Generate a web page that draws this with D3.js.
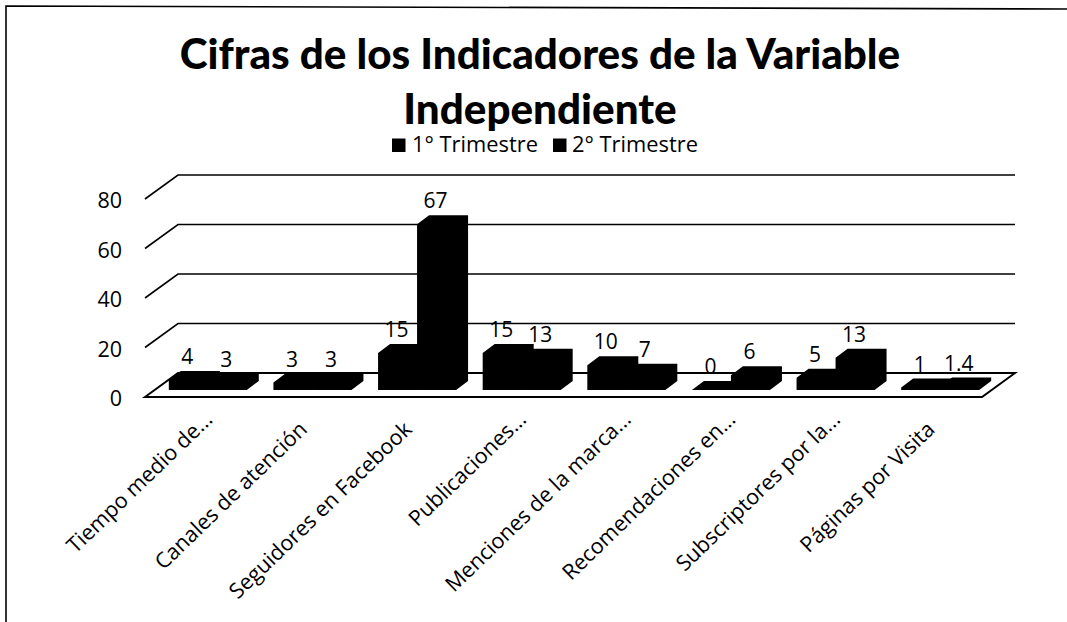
<!DOCTYPE html>
<html><head><meta charset="utf-8">
<script src="https://cdn.jsdelivr.net/npm/d3@7"></script>
<style>html,body{margin:0;padding:0;background:#fff}svg{display:block}text{font-family:"Open Sans",Lato,sans-serif;fill:#000}</style>
</head><body><svg id="c" width="1067" height="622"></svg>
<script>
const categories=["Tiempo medio de...","Canales de atención","Seguidores en Facebook","Publicaciones...","Menciones de la marca...","Recomendaciones en...","Subscriptores por la...","Páginas por Visita"];
const seriesNames=["1° Trimestre","2° Trimestre"];
const trimestre1=[4,3,15,15,10,0,5,1];
const trimestre2=[3,3,67,13,7,6,13,1.4];
const yTicks=[0,20,40,60,80];
const titleLines=["Cifras de los Indicadores de la Variable","Independiente"];

const svg=d3.select("#c");
const ink="#000";
const x=d3.scaleBand().domain(categories).range([145,982]);
const y=d3.scaleLinear().domain([0,80]).range([397,199]);
const depth={x:33,y:24}, barDepth={x:12,y:9}, inset={x:10.5,y:7};
const barW=39;

// border
svg.append("path").attr("d","M6,622L6,6L1067,9").attr("fill","none").attr("stroke",ink).attr("stroke-width",1.6);

// title
svg.selectAll(".t").data(titleLines).join("text").attr("class","t")
 .attr("x",540).attr("y",(d,i)=>69+i*55).attr("text-anchor","middle")
 .style("font-family","Lato,sans-serif").attr("font-size",42.2).attr("font-weight",900).text(d=>d);

// legend
const legend=[{x:392,tx:412,name:seriesNames[0]},{x:553,tx:572,name:seriesNames[1]}];
legend.forEach(l=>{
 svg.append("rect").attr("x",l.x).attr("y",138.5).attr("width",13.5).attr("height",13.5).attr("fill",ink);
 svg.append("text").attr("x",l.tx).attr("y",152).attr("font-size",21).attr("textLength",126).attr("lengthAdjust","spacingAndGlyphs").text(l.name);
});

// walls
const grid=svg.append("g").attr("fill","none").attr("stroke",ink);
yTicks.forEach(t=>{
 const y0=y(t);
 const p=t===0?`M${x.range()[0]},${y0}L${x.range()[0]+depth.x},${y0-depth.y}L${x.range()[1]+depth.x},${y0-depth.y}L${x.range()[1]},${y0}Z`
   :`M${x.range()[0]},${y0}L${x.range()[0]+depth.x},${y0-depth.y}L${x.range()[1]+depth.x},${y0-depth.y}`;
 grid.append("path").attr("d",p).attr("stroke-width",t===0?2:1.6);
});

// axis labels
const axis=svg.append("g").attr("transform","translate(122,2)").call(d3.axisLeft(y).tickValues(yTicks).tickSize(0).tickPadding(0));
axis.select(".domain").remove();
axis.selectAll("text").attr("font-size",21.5).style("font-family","'Open Sans',sans-serif").attr("fill",ink);

// bars
const sub=d3.scaleBand().domain([0,1]).range([0,barW*2]);
const base=y(0)-inset.y;
[trimestre1,trimestre2].forEach((vals,s)=>{
 const g=svg.append("g").attr("fill",ink);
 vals.forEach((v,i)=>{
  const x0=x(categories[i])+x.step()/2+inset.x-barW+sub(s);
  const x1=x0+barW;
  const top=base-(y(0)-y(v));
  g.append("path").attr("d",
   `M${x0},${base}L${x0},${top}L${x0+barDepth.x},${top-barDepth.y}L${x1+barDepth.x},${top-barDepth.y}L${x1+barDepth.x},${base-barDepth.y}L${x1},${base}Z`);
  svg.append("text").attr("class","dl").attr("x",(x0+x1)/2-1).attr("y",top-barDepth.y-7)
   .attr("text-anchor","middle").attr("font-size",21).text(v);
 });
});
svg.selectAll(".dl").raise();

// category labels
svg.append("g").selectAll("text").data(categories).join("text")
 .attr("text-anchor","end").attr("font-size",21.5)
 .attr("transform",d=>`translate(${x(d)+x.step()/2+ (d.endsWith("...")?6:-4)},${d.endsWith("...")?410:420}) rotate(-44)`)
 .attr("dy","0.7em").text(d=>d);
</script></body></html>
